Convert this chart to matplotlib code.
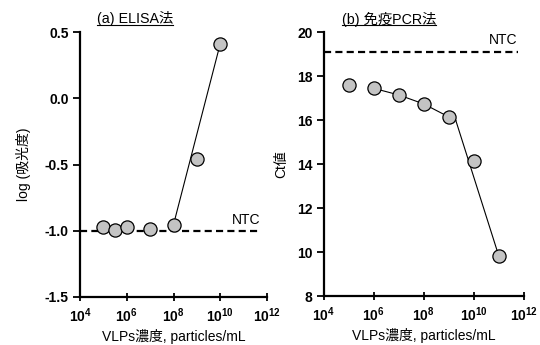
import matplotlib
matplotlib.use("Agg")
import matplotlib.pyplot as plt
from matplotlib.lines import Line2D
import numpy as np

plt.rcParams['font.family'] = ['Liberation Sans', 'Noto Sans CJK JP']
plt.rcParams['mathtext.fontset'] = 'custom'
plt.rcParams['mathtext.rm'] = 'Liberation Sans'
plt.rcParams['mathtext.bf'] = 'Liberation Sans:bold'

# (a) ELISA
elisa_x = [1e5, 3e5, 1e6, 1e7, 1e8, 1e9, 1e10]
elisa_y = [-0.974, -0.994, -0.974, -0.984, -0.954, -0.46, 0.412]
elisa_fit_x = [1e8, 1e10]
elisa_fit_y = [-0.954, 0.412]
elisa_ntc = -1.0

# (b) immuno-PCR
pcr_x = [1e5, 1e6, 1e7, 1e8, 1e9, 1e10, 1e11]
pcr_y = [17.59, 17.44, 17.14, 16.73, 16.14, 14.15, 9.80]
pcr_fit1_x = [1e6, 1e7, 1e8, 1e9, 1.9e9]
pcr_fit1_y = [17.44, 17.14, 16.73, 16.14, 15.98]
pcr_fit2_x = [1.9e9, 1e11]
pcr_fit2_y = [15.98, 9.80]
pcr_ntc = 19.09

xticks = [1e4, 1e6, 1e8, 1e10, 1e12]
xticklabels = [r'$\mathbf{10^{%d}}$' % e for e in [4, 6, 8, 10, 12]]

fig = plt.figure(figsize=(5.4, 3.45), dpi=100)
axA = fig.add_axes([80/540, 48/345, 187/540, 265/345])
axB = fig.add_axes([323.5/540, 49/345, 200.5/540, 264/345])

mk = dict(marker='o', markersize=9.5, markerfacecolor='#c4c4c4',
          markeredgecolor='black', markeredgewidth=0.9, linestyle='none', zorder=5)

def style(ax):
    ax.set_xscale('log')
    ax.set_xlim(1e4, 1e12)
    ax.set_xticks(xticks)
    ax.set_xticklabels(xticklabels, fontsize=10)
    ax.minorticks_off()
    for s in ['top', 'right']:
        ax.spines[s].set_visible(False)
    for s in ['left', 'bottom']:
        ax.spines[s].set_linewidth(1.6)
    ax.tick_params(axis='x', direction='inout', length=6, width=1.3, pad=4)
    ax.tick_params(axis='y', direction='out', length=5, width=1.3, pad=3)
    for lab in ax.get_yticklabels():
        lab.set_fontweight('bold')
        lab.set_fontsize(10)
    ax.set_xlabel('VLPs濃度, particles/mL', fontsize=10, labelpad=3)

# Panel (a)
axA.set_ylim(-1.5, 0.5)
axA.set_yticks([-1.5, -1.0, -0.5, 0.0, 0.5])
axA.set_yticklabels(['-1.5', '-1.0', '-0.5', '0.0', '0.5'])
axA.plot([1e4, 10**11.72], [elisa_ntc, elisa_ntc], color='black', lw=1.6,
         dashes=(3.2, 1.9), clip_on=False)
axA.plot(elisa_fit_x, elisa_fit_y, color='black', lw=0.8)
axA.plot(elisa_x, elisa_y, **mk)
axA.text(10**11.7, elisa_ntc + 0.03, 'NTC', ha='right', va='bottom', fontsize=10)
axA.set_ylabel('log (吸光度)', fontsize=10, labelpad=10)
style(axA)

# Panel (b)
axB.set_ylim(8, 20)
axB.set_yticks([8, 10, 12, 14, 16, 18, 20])
axB.plot([1e4, 10**11.75], [pcr_ntc, pcr_ntc], color='black', lw=1.6,
         dashes=(3.2, 1.9), clip_on=False)
axB.plot(pcr_fit1_x, pcr_fit1_y, color='black', lw=0.8)
axB.plot(pcr_fit2_x, pcr_fit2_y, color='black', lw=0.8)
axB.plot(pcr_x, pcr_y, **mk)
axB.text(10**11.72, pcr_ntc + 0.25, 'NTC', ha='right', va='bottom', fontsize=10)
axB.set_ylabel('Ct値', fontsize=10, labelpad=6)
style(axB)

# Underlined titles
titles = [(97/540, '(a) ELISA法'), (342/540, '(b) 免疫PCR法')]
fig.canvas.draw()
renderer = fig.canvas.get_renderer()
for xf, t in titles:
    txt = fig.text(xf, 1 - 19/345, t, ha='left', va='center', fontsize=10.3)
    bb = txt.get_window_extent(renderer=renderer)
    bbf = bb.transformed(fig.transFigure.inverted())
    y0 = bbf.y0 + 0.004
    fig.add_artist(Line2D([bbf.x0, bbf.x1], [y0, y0], transform=fig.transFigure,
                          color='black', lw=0.8))

fig.savefig('out.png', dpi=100)
